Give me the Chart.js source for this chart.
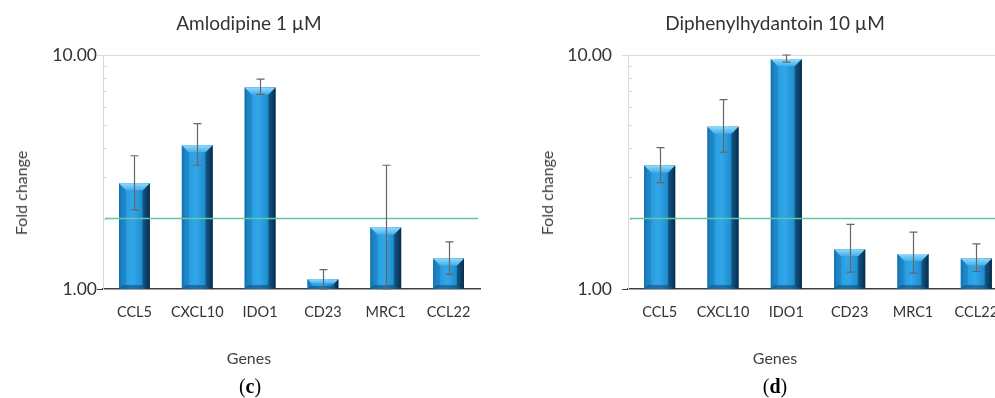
<!DOCTYPE html>
<html><head><meta charset="utf-8">
<script src="https://cdn.jsdelivr.net/npm/chart.js@4.4.0/dist/chart.umd.min.js"></script>
<style>
html,body{margin:0;padding:0;background:#fff;overflow:hidden;width:995px;height:398px;position:relative;}
canvas{display:block;position:absolute;top:0;}
.t{position:absolute;font-family:Lato,"Open Sans",sans-serif;color:#404040;white-space:nowrap;transform:translate(-50%,-50%);line-height:1;}
.title{font-size:19px;color:#333;}
.ax{font-size:16px;}
.rot{transform:translate(-50%,-50%) rotate(-90deg);}
.lab{font-family:"Liberation Serif","DejaVu Serif",serif;font-size:20px;color:#000;}
.lab b{font-weight:bold;}
</style></head>
<body>
<canvas id="c1" width="500" height="398" style="left:0"></canvas>
<canvas id="c2" width="520" height="398" style="left:500px"></canvas>
<div class="t title" style="left:249px;top:22px">Amlodipine 1 µM</div>
<div class="t title" style="left:775px;top:22px">Diphenylhydantoin 10 µM</div>
<div class="t ax rot" style="left:21px;top:193px">Fold change</div>
<div class="t ax rot" style="left:547px;top:193px">Fold change</div>
<div class="t ax" style="left:249px;top:358px">Genes</div>
<div class="t ax" style="left:775px;top:358px">Genes</div>
<div class="t lab" style="left:250px;top:386px">(<b>c</b>)</div>
<div class="t lab" style="left:775px;top:386px">(<b>d</b>)</div>
<script>
const genes = ['CCL5','CXCL10','IDO1','CD23','MRC1','CCL22'];
const amloMean = [2.83, 4.11, 7.27, 1.10, 1.83, 1.35];
const amloLow  = [2.18, 3.38, 6.79, 1.00, 1.00, 1.155];
const amloHigh = [3.71, 5.09, 7.89, 1.21, 3.38, 1.59];
const dphMean  = [3.37, 4.94, 9.61, 1.48, 1.41, 1.35];
const dphLow   = [2.85, 3.84, 9.33, 1.18, 1.17, 1.19];
const dphHigh  = [4.02, 6.45, 10.0, 1.89, 1.75, 1.56];
const yMin = 1, yMax = 10;
const yTickLabels = [1, 10];
const threshold = 2;

const decoPlugin = {
  id: 'deco',
  beforeDatasetsDraw(chart) {
    const ctx = chart.ctx, ys = chart.scales.y, ax = chart.chartArea.left;
    ctx.save();
    ctx.strokeStyle = '#d9d9d9'; ctx.lineWidth = 1;
    for (let v = 2; v < 10; v++) {
      const py = Math.round(ys.getPixelForValue(v)) + 0.5;
      ctx.beginPath(); ctx.moveTo(ax, py); ctx.lineTo(ax + 4, py); ctx.stroke();
    }
    ctx.restore();
  },
  afterDatasetsDraw(chart, args, opts) {
    const ctx = chart.ctx, ys = chart.scales.y, area = chart.chartArea;
    const meta = chart.getDatasetMeta(0);
    ctx.save();
    meta.data.forEach((bar) => {
      const p = bar.getProps(['x', 'y', 'base', 'width'], true);
      const x0 = p.x - p.width / 2, x1 = p.x + p.width / 2, top = p.y, base = p.base;
      const h = base - top;
      const b = Math.min(7, h * 0.45), bb = Math.min(4, h * 0.3);
      const g = ctx.createLinearGradient(x0, 0, x1, 0);
      g.addColorStop(0, '#1a78b8');
      g.addColorStop(0.1, '#2296da');
      g.addColorStop(0.45, '#31a7ea');
      g.addColorStop(0.72, '#2290d2');
      g.addColorStop(0.88, '#156497');
      g.addColorStop(1, '#0a3556');
      ctx.fillStyle = g; ctx.fillRect(x0, top, x1 - x0, h);
      ctx.fillStyle = 'rgba(10,70,120,0.22)';
      ctx.beginPath(); ctx.moveTo(x0, top); ctx.lineTo(x0 + b, top + b); ctx.lineTo(x0 + b, base - bb); ctx.lineTo(x0, base); ctx.closePath(); ctx.fill();
      ctx.fillStyle = 'rgba(5,30,60,0.45)';
      ctx.beginPath(); ctx.moveTo(x1, top); ctx.lineTo(x1 - b, top + b); ctx.lineTo(x1 - b, base - bb); ctx.lineTo(x1, base); ctx.closePath(); ctx.fill();
      const tg = ctx.createLinearGradient(0, top, 0, top + b);
      tg.addColorStop(0, '#93dafb'); tg.addColorStop(1, '#43aeea');
      ctx.fillStyle = tg;
      ctx.beginPath(); ctx.moveTo(x0, top); ctx.lineTo(x1, top); ctx.lineTo(x1 - b, top + b); ctx.lineTo(x0 + b, top + b); ctx.closePath(); ctx.fill();
      ctx.fillStyle = 'rgba(10,50,90,0.45)';
      ctx.beginPath(); ctx.moveTo(x0, base); ctx.lineTo(x1, base); ctx.lineTo(x1 - bb, base - bb); ctx.lineTo(x0 + bb, base - bb); ctx.closePath(); ctx.fill();
    });
    const ty = ys.getPixelForValue(threshold);
    ctx.strokeStyle = '#5ec8a0'; ctx.lineWidth = 1.6;
    ctx.beginPath(); ctx.moveTo(area.left + 2, ty); ctx.lineTo(area.right - 2, ty); ctx.stroke();
    ctx.strokeStyle = '#666'; ctx.lineWidth = 1.2;
    meta.data.forEach((bar, i) => {
      const x = Math.round(bar.x) + 0.5;
      const yh = ys.getPixelForValue(opts.high[i]);
      const yl = ys.getPixelForValue(opts.low[i]);
      ctx.beginPath();
      ctx.moveTo(x, yh); ctx.lineTo(x, yl);
      ctx.moveTo(x - 4, yh); ctx.lineTo(x + 4, yh);
      ctx.moveTo(x - 4, yl); ctx.lineTo(x + 4, yl);
      ctx.stroke();
    });
    ctx.restore();
  }
};

function makeChart(id, mean, low, high, yWidth, padRight, labelPad) {
  return new Chart(document.getElementById(id), {
    type: 'bar',
    data: { labels: genes, datasets: [{ data: mean, backgroundColor: '#2596d8', borderWidth: 0,
      categoryPercentage: 1, barPercentage: 0.49 }] },
    options: {
      responsive: false, animation: false,
      layout: { padding: { left: 0, right: padRight, top: 55, bottom: 0 } },
      plugins: { legend: { display: false }, tooltip: { enabled: false }, title: { display: false },
        deco: { low: low, high: high } },
      scales: {
        x: {
          grid: { display: false, drawTicks: false },
          border: { display: true, color: '#404040', width: 1.5 },
          ticks: { color: '#333', font: { family: 'Lato', size: 14.5 }, padding: 15, maxRotation: 0 },
          afterFit: (s) => { s.height = 398 - 289; }
        },
        y: {
          type: 'logarithmic', min: yMin, max: yMax,
          afterBuildTicks: (s) => { s.ticks = yTickLabels.map(v => ({ value: v })); },
          grid: {
            drawTicks: true, tickLength: 6,
            color: (c) => (c.tick && c.tick.value === yMax) ? '#d9d9d9' : 'rgba(0,0,0,0)',
            tickColor: (c) => (c.tick && c.tick.value === yMax) ? '#d9d9d9' : '#404040'
          },
          border: { display: true, color: '#d9d9d9', width: 1 },
          ticks: { color: '#333', font: { family: 'Lato', size: 17.5 }, padding: labelPad,
            callback: (v) => Number(v).toFixed(2) },
          afterFit: (s) => { s.width = yWidth; }
        }
      }
    },
    plugins: [decoPlugin]
  });
}

makeChart('c1', amloMean, amloLow, amloHigh, 103, 20, 0);
makeChart('c2', dphMean, dphLow, dphHigh, 128, 12, 10);
</script>
</body></html>
